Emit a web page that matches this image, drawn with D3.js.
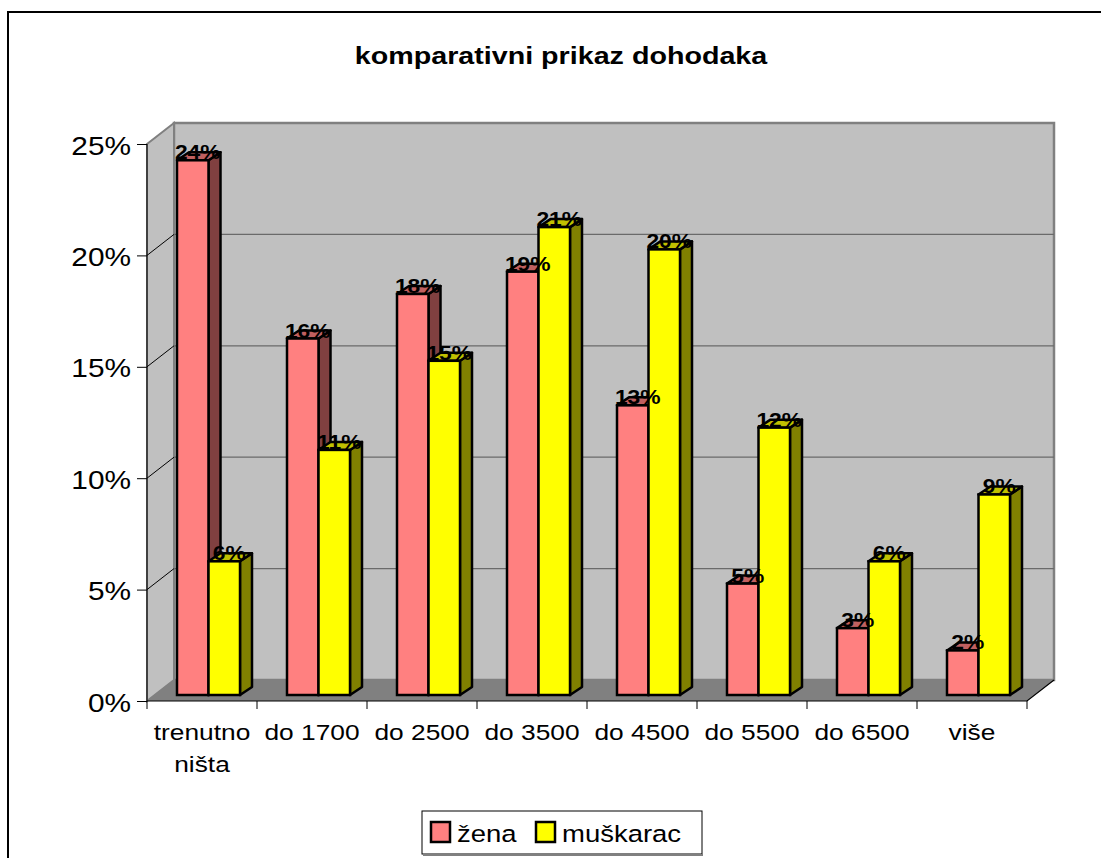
<html>
<head>
<meta charset="utf-8">
<title>komparativni prikaz dohodaka</title>
<style>
  body { margin: 0; background: #fff; }
  text { font-family: Arial, "Liberation Sans", sans-serif; fill: #000; }
</style>
</head>
<body>
<script src="https://d3js.org/d3.v7.min.js"></script>
<script>
// podaci
var categories = ["trenutno ništa", "do 1700", "do 2500", "do 3500", "do 4500", "do 5500", "do 6500", "više"];
var seriesNames = ["žena", "muškarac"];
var zena = [24, 16, 18, 19, 13, 5, 3, 2];
var muskarac = [6, 11, 15, 21, 20, 12, 6, 9];
var yTicks = [0, 5, 10, 15, 20, 25];

var W = 1101, H = 858;
var SX = 1.17;              // the picture is stretched horizontally
var DX = 27, DY = -21;      // depth of the walls
var PY = -6;                // bars sit a little behind the front edge
var BX = 12, BY = -8;       // depth of one bar

var colors = {
  "žena":     { front: "#ff8080", top: "#c06060", side: "#804040" },
  "muškarac": { front: "#ffff00", top: "#c0c000", side: "#808000" }
};

var svg = d3.select("body").append("svg")
    .attr("width", W)
    .attr("height", H);

// outer frame
svg.append("rect")
    .attr("x", 8).attr("y", 12)
    .attr("width", 1200).attr("height", 1000)
    .attr("fill", "#fff")
    .attr("stroke", "#000")
    .attr("stroke-width", 2);

var x = d3.scaleBand().domain(categories).range([147, 1027]);
var inner = d3.scaleBand().domain(seriesNames).range([30, 93]);
var y = d3.scaleLinear().domain([0, 25]).range([701, 144]);

var x0 = x.range()[0], x1 = x.range()[1];
var yb = y(0), yt = y(25);

// title
svg.append("text")
    .attr("transform", "translate(561,64) scale(" + SX + ",1)")
    .attr("text-anchor", "middle")
    .style("font-size", "24.5px")
    .style("font-weight", "bold")
    .text("komparativni prikaz dohodaka");

// walls
function poly(pts) { return "M" + pts.map(function(p) { return p.join(","); }).join("L") + "Z"; }

svg.append("path")   // back wall
    .attr("d", poly([[x0 + DX, yt + DY], [x1 + DX, yt + DY], [x1 + DX, yb + DY], [x0 + DX, yb + DY]]))
    .attr("fill", "#c0c0c0")
    .attr("stroke", "#808080")
    .attr("stroke-width", 2.5);

svg.append("path")   // side wall
    .attr("d", poly([[x0, yt], [x0 + DX, yt + DY], [x0 + DX, yb + DY], [x0, yb]]))
    .attr("fill", "#c0c0c0")
    .attr("stroke", "#808080")
    .attr("stroke-width", 2);

svg.append("path")   // floor
    .attr("d", poly([[x0, yb], [x0 + DX, yb + DY], [x1 + DX, yb + DY], [x1, yb]]))
    .attr("fill", "#808080");

// gridlines
var grid = svg.append("g");
yTicks.filter(function(d) { return d > 0 && d < 25; }).forEach(function(d) {
  grid.append("line")
      .attr("x1", x0 + DX).attr("x2", x1 + DX)
      .attr("y1", y(d) + DY).attr("y2", y(d) + DY)
      .attr("stroke", "#6a6a6a").attr("stroke-width", 1.3);
  grid.append("line")
      .attr("x1", x0).attr("x2", x0 + DX)
      .attr("y1", y(d)).attr("y2", y(d) + DY)
      .attr("stroke", "#000").attr("stroke-width", 1);
});

// y axis
var yAxis = d3.axisLeft(y).tickValues(yTicks).tickSize(10).tickFormat(function(d) { return d + "%"; });
var gy = svg.append("g").attr("transform", "translate(" + x0 + ",0)").call(yAxis);
gy.select(".domain").attr("stroke", "#000").attr("d", "M0," + yt + "V" + yb);
gy.selectAll(".tick line").attr("stroke", "#000");
gy.selectAll(".tick text")
    .attr("x", 0).attr("dy", null)
    .attr("transform", "translate(-16,10) scale(" + SX + ",1)")
    .style("font-size", "25.5px")
    .style("font-family", "Arial, 'Liberation Sans', sans-serif");

// x axis: front edge, right edge and boundary ticks
svg.append("path")
    .attr("d", "M" + x0 + "," + yb + "H" + x1 + "L" + (x1 + DX) + "," + (yb + DY))
    .attr("fill", "none").attr("stroke", "#000").attr("stroke-width", 1.2);
var bounds = categories.map(function(c) { return x(c); }).concat([x1]);
svg.append("g").selectAll("line").data(bounds).join("line")
    .attr("x1", function(d) { return d; }).attr("x2", function(d) { return d; })
    .attr("y1", yb).attr("y2", yb + 8)
    .attr("stroke", "#000");

svg.append("g").selectAll("text").data(categories).join("text")
    .attr("transform", function(d) { return "translate(" + (x(d) + x.bandwidth() / 2) + ",740) scale(" + SX + ",1)"; })
    .attr("text-anchor", "middle")
    .style("font-size", "22.5px")
    .each(function(d) {
      var words = d === "trenutno ništa" ? ["trenutno", "ništa"] : [d];
      var t = d3.select(this);
      words.forEach(function(w, i) {
        t.append("tspan").attr("x", 0).attr("y", i * 32).text(w);
      });
    });

// bars
var rows = [];
categories.forEach(function(c, i) {
  rows.push({ cat: c, s: "žena", v: zena[i] });
  rows.push({ cat: c, s: "muškarac", v: muskarac[i] });
});

var bars = svg.append("g").selectAll("g").data(rows).join("g");
bars.each(function(d) {
  var g = d3.select(this);
  var l = x(d.cat) + inner(d.s), r = l + inner.bandwidth();
  var top = y(d.v) + PY, bot = y(0) + PY;
  var col = colors[d.s];
  g.append("path")
      .attr("d", poly([[r, top], [r + BX, top + BY], [r + BX, bot + BY], [r, bot]]))
      .attr("fill", col.side).attr("stroke", "#000").attr("stroke-width", 2.5).attr("stroke-linejoin", "round");
  g.append("path")
      .attr("d", poly([[l, top], [l + BX, top + BY], [r + BX, top + BY], [r, top]]))
      .attr("fill", col.top).attr("stroke", "#000").attr("stroke-width", 2.5).attr("stroke-linejoin", "round");
  g.append("rect")
      .attr("x", l).attr("y", top)
      .attr("width", r - l).attr("height", bot - top)
      .attr("fill", col.front).attr("stroke", "#000").attr("stroke-width", 2.5);
});

// data labels
svg.append("g").selectAll("text").data(rows).join("text")
    .attr("transform", function(d) {
      var cx = x(d.cat) + inner(d.s) + inner.bandwidth() / 2 + 5;
      return "translate(" + cx + "," + (y(d.v) + PY - 1) + ") scale(" + SX + ",1)";
    })
    .attr("text-anchor", "middle")
    .style("font-size", "19.5px")
    .style("font-weight", "bold")
    .text(function(d) { return d.v + "%"; });

// legend
var lg = svg.append("g");
lg.append("rect")
    .attr("x", 422).attr("y", 811).attr("width", 280).attr("height", 43)
    .attr("fill", "#fff").attr("stroke", "#000").attr("stroke-width", 1);
lg.append("line")
    .attr("x1", 423).attr("x2", 703).attr("y1", 855).attr("y2", 855)
    .attr("stroke", "#808080").attr("stroke-width", 2);
var legendX = [431, 536];
seriesNames.forEach(function(s, i) {
  lg.append("rect")
      .attr("x", legendX[i]).attr("y", 822).attr("width", 19).attr("height", 20)
      .attr("fill", colors[s].front).attr("stroke", "#000").attr("stroke-width", 2.5);
  lg.append("text")
      .attr("transform", "translate(" + (legendX[i] + 26) + ",842) scale(" + SX + ",1)")
      .style("font-size", "23.5px")
      .text(s);
});
</script>
</body>
</html>
